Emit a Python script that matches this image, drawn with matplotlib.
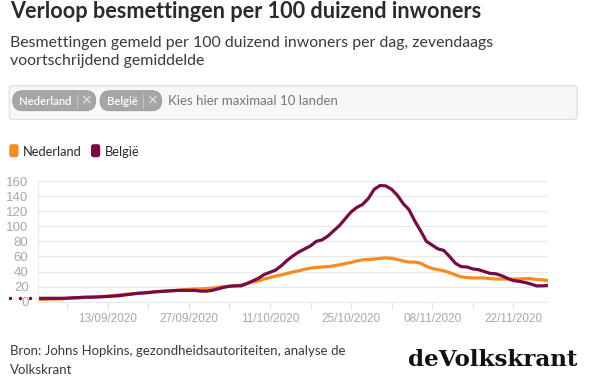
import pandas as pd
import matplotlib.pyplot as plt
from matplotlib.patches import FancyBboxPatch

# seven-day averages per 100k inhabitants, daily from 1 Sep 2020
start = '2020-09-01'
nederland = [3.0, 3.1, 3.3, 3.5, 3.8, 4.2, 4.6, 5.0, 5.5, 6.0,
             6.5, 7.0, 7.5, 8.2, 9.0, 9.8, 10.5, 11.0, 11.8, 12.5,
             13.0, 13.5, 14.0, 14.5, 15.0, 15.8, 16.3, 16.8, 17.0, 17.5,
             18.0, 19.0, 19.8, 20.5, 21.3, 22.0, 24.0, 26.0, 27.5, 30.0,
             32.0, 34.0, 35.5, 37.5, 39.5, 41.0, 43.0, 44.5, 45.5, 46.0,
             46.5, 47.5, 49.0, 50.5, 52.0, 54.0, 55.5, 56.0, 56.5, 57.5,
             58.0, 57.5, 56.0, 54.0, 52.5, 52.5, 51.0, 47.0, 44.0, 42.5,
             41.0, 38.5, 35.5, 33.0, 32.0, 31.5, 31.5, 31.5, 30.5, 30.0,
             30.0, 30.0, 30.0, 30.0, 30.5, 30.5, 29.5, 29.0, 28.0]
belgie = [4.5, 4.5, 4.5, 4.5, 4.5, 4.8, 5.2, 5.5, 6.0, 6.0,
          6.2, 6.5, 7.0, 7.5, 8.0, 9.0, 10.0, 11.0, 11.5, 12.0,
          13.0, 13.5, 14.0, 14.5, 15.0, 15.0, 15.0, 15.0, 14.0, 14.0,
          15.0, 17.0, 19.0, 20.5, 21.0, 21.0, 24.0, 27.5, 31.0, 36.0,
          39.0, 42.0, 48.0, 55.0, 61.0, 66.0, 70.0, 74.0, 80.0, 82.0,
          87.0, 94.0, 101.0, 110.0, 119.0, 125.0, 129.0, 137.0, 149.0, 154.0,
          153.5, 149.0, 141.0, 130.0, 122.0, 107.0, 94.0, 80.0, 75.0, 70.0,
          68.0, 60.0, 51.0, 46.5, 46.0, 43.5, 42.5, 40.0, 37.5, 37.0,
          34.5, 31.0, 28.0, 27.0, 25.5, 23.5, 21.0, 21.0, 21.5]
dates = pd.date_range(start, periods=len(nederland))
tick_dates = pd.date_range('2020-09-06', '2020-11-22', freq='7D')
labels = ['' if i % 2 == 0 else d.strftime('%d/%m/%Y') for i, d in enumerate(tick_dates)]
yticks = [0, 20, 40, 60, 80, 100, 120, 140, 160]

ORANGE = '#f68b1f'
PURPLE = '#770b45'
W, H = 608, 380
txt = 'Lato'

fig = plt.figure(figsize=(W / 100, H / 100), dpi=100)
rend = fig.canvas.get_renderer()


def fit(t, width):
    # scale a text so it spans the given pixel width
    w = t.get_window_extent(rend).width
    t.set_fontsize(t.get_fontsize() * width / w)
    return t


# overlay in pixel units for the header / footer
ov = fig.add_axes([0, 0, 1, 1], zorder=0)
ov.set_xlim(0, W)
ov.set_ylim(H, 0)
ov.axis('off')

fit(ov.text(9.7, 18.5, 'Verloop besmettingen per 100 duizend inwoners', fontsize=15,
            fontweight='bold', family=txt, color='#2b2b2b', va='baseline'), 473)
sub = fit(ov.text(9.7, 46.8, 'Besmettingen gemeld per 100 duizend inwoners per dag, zevendaags',
                  fontsize=12, family=txt, color='#3a3a3a', va='baseline'), 481)
ov.text(9.7, 65, 'voortschrijdend gemiddelde', fontsize=sub.get_fontsize(), family=txt,
        color='#3a3a3a', va='baseline')

# country picker box
ov.add_patch(FancyBboxPatch((9.3, 85.7), 568, 33.6, boxstyle='round,pad=0,rounding_size=3',
                            fc='#f7f7f7', ec='#dcdcdc', lw=0.8))
pill_size = None
for x0, x1, name in [(12.7, 95.7, 'Nederland'), (100, 161.7, 'België')]:
    ov.add_patch(FancyBboxPatch((x0, 90.7), x1 - x0, 20, boxstyle='round,pad=0,rounding_size=10',
                                fc='#a6a6a6', ec='#969696', lw=0.6))
    t = ov.text(x0 + 6.5, 105, name, fontsize=9.5, family=txt, color='white',
                va='baseline', fontweight='semibold')
    if pill_size is None:
        pill_size = fit(t, 52).get_fontsize()
    else:
        t.set_fontsize(pill_size)
    ov.plot([x1 - 18.4, x1 - 18.4], [93.5, 108], color='#c4c4c4', lw=0.7)
    ov.text(x1 - 9.8, 100.3, '×', fontsize=10, color='#e4e4e4', ha='center', va='center',
            family='DejaVu Sans')
fit(ov.text(168.3, 105, 'Kies hier maximaal 10 landen', fontsize=10.5, family=txt,
            color='#777777', va='baseline'), 170)

# legend
leg_size = None
for x0, name, c in [(9.3, 'Nederland', ORANGE), (91, 'België', PURPLE)]:
    ov.add_patch(FancyBboxPatch((x0, 144.2), 9.2, 13, boxstyle='round,pad=0,rounding_size=2.5',
                                fc=c, ec='none'))
    t = ov.text(x0 + 14, 156, name, fontsize=10.5, family=txt, color='#2b2b2b', va='baseline')
    if leg_size is None:
        leg_size = fit(t, 60).get_fontsize()
    else:
        t.set_fontsize(leg_size)

# footer
src = fit(ov.text(9.7, 355, 'Bron: Johns Hopkins, gezondheidsautoriteiten, analyse de',
                  fontsize=10.5, family=txt, color='#3a3a3a', va='baseline'), 338)
ov.text(9.7, 373.5, 'Volkskrant', fontsize=src.get_fontsize(), family=txt, color='#3a3a3a',
        va='baseline')
fit(ov.text(408.3, 366, 'deVolkskrant', fontsize=17, family='DejaVu Serif', fontweight='bold',
            color='#111111', va='baseline'), 170)

# chart
ax = fig.add_axes([38.3 / W, 1 - 301.7 / H, (548 - 38.3) / W, (301.7 - 181) / H], zorder=1)
ax.patch.set_alpha(0)
ax.plot(dates, nederland, color=ORANGE, lw=2.3, clip_on=False, solid_capstyle='butt')
ax.plot(dates, belgie, color=PURPLE, lw=2.3, clip_on=False, solid_capstyle='butt')
ax.set_xlim(dates[0], dates[-1])
ax.set_ylim(0, 160)
ax.set_yticks(yticks)
ax.set_xticks(tick_dates)
ax.set_xticklabels(labels)
ax.grid(axis='y', color='#e9e9e9', lw=0.9)
ax.set_axisbelow(True)
for s in ['top', 'right']:
    ax.spines[s].set_visible(False)
ax.spines['left'].set_color('#e9e9e9')
ax.spines['bottom'].set_color('#e9e9e9')
ax.tick_params(axis='y', length=0, pad=7, labelsize=9.5, labelcolor='#a8a8a8')
ax.tick_params(axis='x', length=5, color='#e3e3e3', pad=3, labelsize=8.5, labelcolor='#a8a8a8')
for t in ax.get_yticklabels() + ax.get_xticklabels():
    t.set_family('Liberation Sans')

# hover marker at the left of the first value
ov.plot([10, 20, 30], [298.3, 298.3, 298.3], ls='none', marker='o', ms=1.5, color=PURPLE)

fig.savefig('out.png', dpi=100)
